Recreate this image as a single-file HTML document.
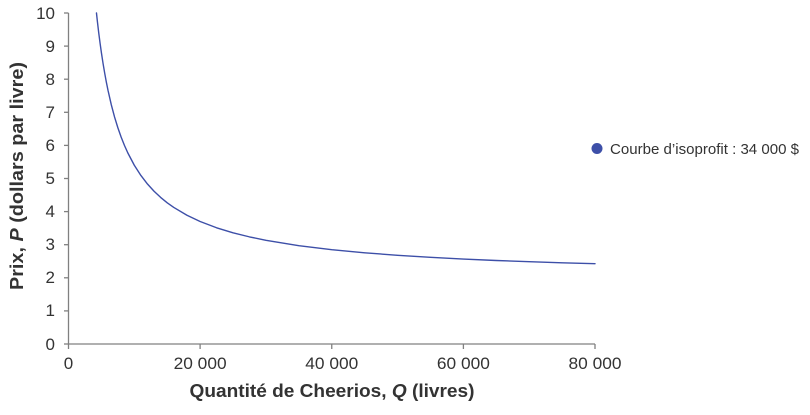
<!DOCTYPE html>
<html><head><meta charset="utf-8"><style>
html,body{margin:0;padding:0;background:#fff;}
svg{display:block;}
text{font-family:"Liberation Sans",sans-serif;fill:#333;}
</style></head><body>
<svg width="810" height="415" viewBox="0 0 810 415" xmlns="http://www.w3.org/2000/svg">
<g stroke="#808080" stroke-width="1.3" fill="none">
<line x1="68.5" y1="13" x2="68.5" y2="344"/>
<line x1="68.5" y1="344" x2="595" y2="344"/>
<line x1="64" y1="13" x2="68.5" y2="13"/>
<line x1="64" y1="46.1" x2="68.5" y2="46.1"/>
<line x1="64" y1="79.2" x2="68.5" y2="79.2"/>
<line x1="64" y1="112.3" x2="68.5" y2="112.3"/>
<line x1="64" y1="145.4" x2="68.5" y2="145.4"/>
<line x1="64" y1="178.5" x2="68.5" y2="178.5"/>
<line x1="64" y1="211.6" x2="68.5" y2="211.6"/>
<line x1="64" y1="244.7" x2="68.5" y2="244.7"/>
<line x1="64" y1="277.8" x2="68.5" y2="277.8"/>
<line x1="64" y1="310.9" x2="68.5" y2="310.9"/>
<line x1="64" y1="344" x2="68.5" y2="344"/>
<line x1="68.5" y1="344" x2="68.5" y2="349"/>
<line x1="200.1" y1="344" x2="200.1" y2="349"/>
<line x1="331.75" y1="344" x2="331.75" y2="349"/>
<line x1="463.4" y1="344" x2="463.4" y2="349"/>
<line x1="595" y1="344" x2="595" y2="349"/>
</g>
<g font-size="17" text-anchor="end">
<text x="55" y="19">10</text>
<text x="55" y="52">9</text>
<text x="55" y="85">8</text>
<text x="55" y="118">7</text>
<text x="55" y="151">6</text>
<text x="55" y="184">5</text>
<text x="55" y="217">4</text>
<text x="55" y="250">3</text>
<text x="55" y="283">2</text>
<text x="55" y="316">1</text>
<text x="55" y="350">0</text>
</g>
<g font-size="17" text-anchor="middle">
<text x="68.5" y="369">0</text>
<text x="200.1" y="369" textLength="53" lengthAdjust="spacingAndGlyphs">20 000</text>
<text x="331.75" y="369" textLength="53" lengthAdjust="spacingAndGlyphs">40 000</text>
<text x="463.4" y="369" textLength="53" lengthAdjust="spacingAndGlyphs">60 000</text>
<text x="595" y="369" textLength="53" lengthAdjust="spacingAndGlyphs">80 000</text>
</g>
<text x="332" y="397" font-size="18" font-weight="bold" text-anchor="middle" textLength="285" lengthAdjust="spacingAndGlyphs">Quantité de Cheerios, <tspan font-style="italic">Q</tspan> (livres)</text>
<text transform="translate(23,176) rotate(-90)" font-size="18" font-weight="bold" text-anchor="middle" textLength="228" lengthAdjust="spacingAndGlyphs">Prix, <tspan font-style="italic">P</tspan> (dollars par livre)</text>
<polyline fill="none" stroke="#3d4fa8" stroke-width="1.4" stroke-linejoin="round" stroke-linecap="round" points="96.47,13 97.46,22.03 98.77,33.15 100.09,43.34 101.41,52.72 103.05,63.44 104.70,73.18 106.34,82.08 107.99,90.23 111.28,104.66 114.57,117.03 117.86,127.75 121.15,137.12 124.44,145.40 127.73,152.76 134.31,165.26 140.89,175.49 147.48,184.02 154.06,191.23 160.64,197.41 167.22,202.77 173.80,207.46 186.96,215.28 200.13,221.53 216.58,227.78 233.03,232.78 249.48,236.88 265.94,240.29 298.84,245.65 331.75,249.66 364.66,252.79 397.56,255.29 430.47,257.34 463.38,259.04 496.28,260.49 529.19,261.72 562.09,262.79 595,263.73"/>
<circle cx="597" cy="148.5" r="5.5" fill="#3d4fa8"/>
<text x="610" y="154" font-size="15" textLength="189" lengthAdjust="spacingAndGlyphs">Courbe d’isoprofit : 34 000 $</text>
</svg>
</body></html>
